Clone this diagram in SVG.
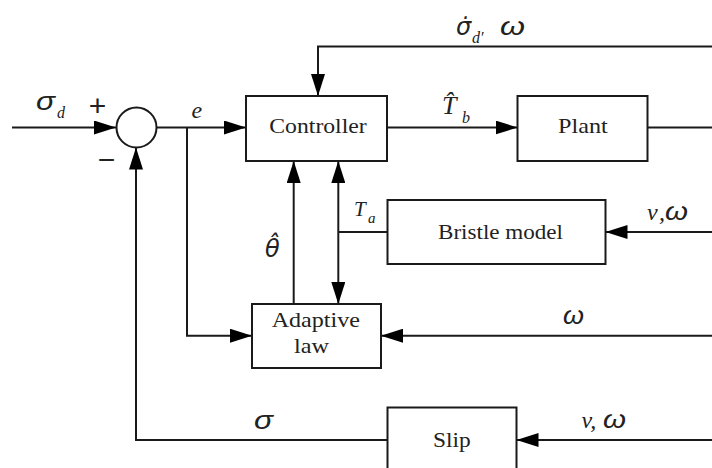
<svg xmlns="http://www.w3.org/2000/svg" width="712" height="468" viewBox="0 0 712 468">
<style>
.box{fill:#fff;stroke:#1a1a1a;stroke-width:2}
.ln{fill:none;stroke:#1a1a1a;stroke-width:2}
.lbl{font-family:"Liberation Serif","Times New Roman",serif;font-size:22px;fill:#222}
.it{font-family:"Liberation Serif","Times New Roman",serif;font-style:italic;fill:#222}
.gr{font-family:"Liberation Sans",Arial,sans-serif;font-style:italic;fill:#222}
.grd{font-family:"DejaVu Sans","Liberation Sans",sans-serif;font-style:italic;fill:#222}
.sym{font-family:"Liberation Sans",Arial,sans-serif;font-size:30px;fill:#222}
</style>
<defs>
<marker id="ah" markerUnits="userSpaceOnUse" markerWidth="23" markerHeight="14" refX="22" refY="7" orient="auto">
<path d="M0,0 L22,7 L0,14 z" fill="#000"/>
</marker>
<marker id="ahs" markerUnits="userSpaceOnUse" markerWidth="23" markerHeight="14" refX="0" refY="7" orient="auto">
<path d="M22,0 L0,7 L22,14 z" fill="#000"/>
</marker>
</defs>

<g id="connectors">
<path class="ln" d="M12,127.5 H116" marker-end="url(#ah)"/>
<path class="ln" d="M156.5,127.5 H246" marker-end="url(#ah)"/>
<path class="ln" d="M187,127.5 V335.7 H252" marker-end="url(#ah)"/>
<path class="ln" d="M387,127.5 H517.5" marker-end="url(#ah)"/>
<path class="ln" d="M647.5,127.5 H712"/>
<path class="ln" d="M712,46.5 H318 V96" marker-end="url(#ah)"/>
<path class="ln" d="M293.7,304 V161" marker-end="url(#ah)"/>
<path class="ln" d="M338.3,161 V304" marker-start="url(#ahs)" marker-end="url(#ah)"/>
<path class="ln" d="M338.3,232 H387.5"/>
<path class="ln" d="M712,232 H605.5" marker-end="url(#ah)"/>
<path class="ln" d="M712,335.7 H381" marker-end="url(#ah)"/>
<path class="ln" d="M712,440 H516.5" marker-end="url(#ah)"/>
<path class="ln" d="M387.5,440 H136 V147.5" marker-end="url(#ah)"/>
</g>

<g id="sum">
<circle class="box" cx="136.5" cy="127.5" r="20"/>
<text class="sym" x="97.5" y="116" text-anchor="middle">+</text>
<text class="sym" x="106.5" y="170" text-anchor="middle">−</text>
</g>

<g id="controller">
<rect class="box" x="246" y="96" width="141" height="65"/>
<text class="lbl" x="269.3" y="132.7" textLength="97.4" lengthAdjust="spacingAndGlyphs">Controller</text>
</g>
<g id="plant">
<rect class="box" x="517.5" y="96" width="130" height="65"/>
<text class="lbl" x="558" y="132.7" textLength="49.7" lengthAdjust="spacingAndGlyphs">Plant</text>
</g>
<g id="bristle">
<rect class="box" x="387.5" y="200" width="218" height="64"/>
<text class="lbl" x="438" y="239.3" textLength="125" lengthAdjust="spacingAndGlyphs">Bristle model</text>
</g>
<g id="adaptive">
<rect class="box" x="252" y="304" width="129" height="64"/>
<text class="lbl" x="271.7" y="327.3" textLength="88.3" lengthAdjust="spacingAndGlyphs">Adaptive</text>
<text class="lbl" x="294" y="352.7" textLength="35" lengthAdjust="spacingAndGlyphs">law</text>
</g>
<g id="slip">
<rect class="box" x="387.5" y="407.5" width="129" height="75"/>
<text class="lbl" x="433" y="447" textLength="37.7" lengthAdjust="spacingAndGlyphs">Slip</text>
</g>

<g id="labels">
<text class="gr" x="36" y="110" font-size="26" textLength="19" lengthAdjust="spacingAndGlyphs">σ</text>
<text class="it" x="57" y="118" font-size="16">d</text>
<text class="it" x="191.5" y="118" font-size="24">e</text>
<text class="grd" x="456" y="35" font-size="24">σ̇</text>
<text class="it" x="472" y="43" font-size="16">d′</text>
<text class="gr" x="500" y="35" font-size="26" textLength="25" lengthAdjust="spacingAndGlyphs">ω</text>
<text class="it" x="442" y="114.3" font-size="26">T̂</text>
<text class="it" x="462" y="123" font-size="16">b</text>
<text class="it" x="354" y="216" font-size="21">T</text>
<text class="it" x="368" y="223" font-size="15">a</text>
<text class="grd" x="265" y="256.7" font-size="24">θ̂</text>
<text class="it" x="647" y="220" font-size="24">v</text>
<text class="it" x="659" y="220" font-size="24">,</text>
<text class="gr" x="665" y="220" font-size="26" textLength="23" lengthAdjust="spacingAndGlyphs">ω</text>
<text class="gr" x="563" y="324" font-size="26" textLength="21" lengthAdjust="spacingAndGlyphs">ω</text>
<text class="gr" x="254" y="429" font-size="26" textLength="19" lengthAdjust="spacingAndGlyphs">σ</text>
<text class="it" x="581.5" y="428" font-size="24">v,</text>
<text class="gr" x="603" y="428" font-size="26" textLength="23" lengthAdjust="spacingAndGlyphs">ω</text>
</g>
</svg>
